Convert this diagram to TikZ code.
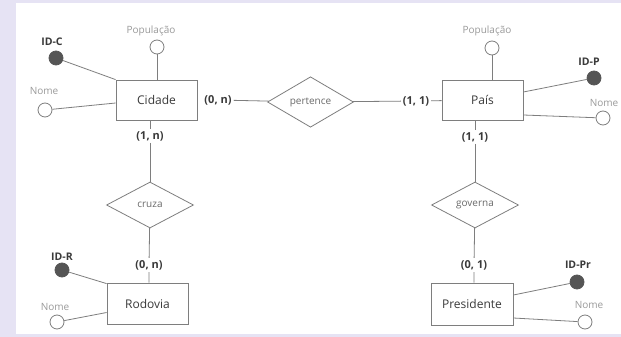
\documentclass[tikz,border=0pt]{standalone}
\usepackage{fontspec}
\setmainfont{Open Sans}
\usetikzlibrary{shapes.geometric}
\definecolor{lav}{HTML}{E6E3F4}
\definecolor{linegray}{HTML}{7E7E7E}
\definecolor{darktext}{HTML}{3A3A3A}
\definecolor{midtext}{HTML}{6A6A6A}
\definecolor{softtext}{HTML}{9A9A9A}
\definecolor{keygray}{HTML}{555555}
\begin{document}
\begin{tikzpicture}[x=1pt,y=-1pt,
  link/.style={draw=linegray, line width=0.8pt},
  entity/.style={rectangle, draw=linegray, line width=0.8pt, minimum width=81pt, minimum height=40pt,
    inner sep=0pt, text=darktext, font=\fontsize{12}{14}\selectfont},
  rel/.style={diamond, draw=linegray, line width=0.8pt, minimum width=86pt, minimum height=46pt,
    inner sep=0pt, text=midtext, font=\fontsize{10}{12}\selectfont},
  attr/.style={circle, draw=linegray, line width=0.8pt, fill=white, minimum size=14pt, inner sep=0pt},
  keyattr/.style={attr, fill=keygray, draw=keygray},
  alabel/.style={text=softtext, inner sep=1pt, font=\fontsize{10}{12}\selectfont},
  klabel/.style={text=darktext, inner sep=1pt, font=\bfseries\fontsize{10.5}{12}\selectfont},
  card/.style={text=darktext, inner sep=2pt, font=\bfseries\fontsize{11}{13}\selectfont}]

% page background and white canvas
\fill[lav] (0,0) rectangle (621,337);
\fill[white] (16,3) rectangle (621,334);
\useasboundingbox (0,0) rectangle (621,337);

% entities
\node[entity] (cidade) at (156.5,100) {Cidade};
\node[entity] (pais) at (482.5,100) {País};
\node[entity, minimum height=41pt] (rodovia) at (147.5,303.5) {Rodovia};
\node[entity, minimum width=82pt, minimum height=42pt] (presidente) at (472,304) {Presidente};

% relationships
\node[rel] (pertence) at (310.5,102) {pertence};
\node[rel, minimum width=87pt] (cruza) at (150,205) {cruza};
\node[rel, minimum width=87pt] (governa) at (475,205) {governa};

% cardinalities
\node[card] (c1) at (218,100) {(0, n)};
\node[card] (c2) at (416,101) {(1, 1)};
\node[card] (c3) at (150,136) {(1, n)};
\node[card] (c4) at (149,265) {(0, n)};
\node[card] (c5) at (475,137) {(1, 1)};
\node[card] (c6) at (474,265) {(0, 1)};

% attributes of Cidade
\node[attr] (popC) at (157,47) {};
\node[alabel] (popCl) at (151,31) {População};
\node[keyattr] (idC) at (56,58) {};
\node[klabel] (idCl) at (52,42) {ID-C};
\node[attr] (nomeC) at (45,110) {};
\node[alabel] (nomeCl) at (44,91) {Nome};

% attributes of País
\node[attr] (popP) at (492,48) {};
\node[alabel] (popPl) at (487,31) {População};
\node[keyattr] (idP) at (594,78) {};
\node[klabel] (idPl) at (589,62) {ID-P};
\node[attr] (nomeP) at (603,118) {};
\node[alabel] (nomePl) at (604,103) {Nome};

% attributes of Rodovia
\node[keyattr] (idR) at (62,270) {};
\node[klabel] (idRl) at (62,257) {ID-R};
\node[attr] (nomeR) at (57,322) {};
\node[alabel] (nomeRl) at (55,307) {Nome};

% attributes of Presidente
\node[keyattr] (idPr) at (577,282) {};
\node[klabel] (idPrl) at (578,265) {ID-Pr};
\node[attr] (nomePr) at (585,322) {};
\node[alabel] (nomePrl) at (589,305) {Nome};

% relationship connectors
\draw[link] (c1) -- (pertence);
\draw[link] (pertence) -- (c2) -- (pais);
\draw[link] (c3 |- cidade.south) -- (c3) -- (cruza);
\draw[link] (cruza) -- (c4) -- (c4 |- rodovia.north);
\draw[link] (c5 |- pais.south) -- (c5) -- (governa);
\draw[link] (governa) -- (c6) -- (c6 |- presidente.north);

% attribute connectors
\draw[link] (popC) -- (popC |- cidade.north);
\draw[link] (idC) -- (cidade.north west);
\draw[link] (nomeC) -- ([yshift=-3pt]cidade.west);
\draw[link] (popP) -- (popP |- pais.north);
\draw[link] (idP) -- ([yshift=8pt]pais.east);
\draw[link] (nomeP) -- ([yshift=-15pt]pais.east);
\draw[link] (idR) -- ([yshift=-1pt]rodovia.north west);
\draw[link] (nomeR) -- ([yshift=-9pt]rodovia.west);
\draw[link] (idPr) -- ([yshift=9pt]presidente.east);
\draw[link] (nomePr) -- ([yshift=-14pt]presidente.east);
\end{tikzpicture}
\end{document}
